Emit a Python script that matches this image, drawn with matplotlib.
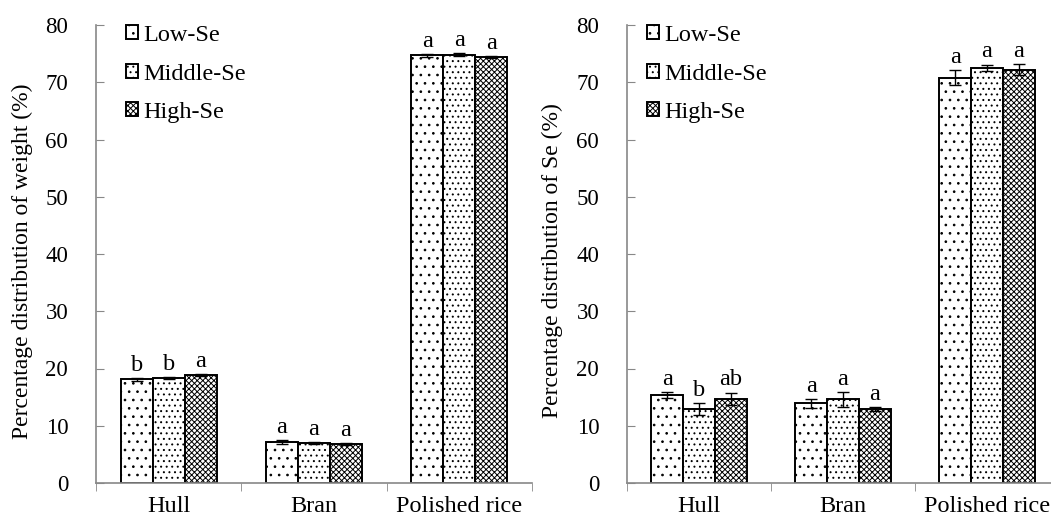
import matplotlib
matplotlib.use("Agg")
import matplotlib.pyplot as plt
import numpy as np

plt.rcParams['font.family'] = ['Liberation Serif', 'DejaVu Serif']
plt.rcParams['hatch.linewidth'] = 0.7

categories = ["Hull", "Bran", "Polished rice"]
series = ["Low-Se", "Middle-Se", "High-Se"]

weight_low = [18.1, 7.2, 74.7]
weight_mid = [18.3, 7.0, 74.8]
weight_high = [18.9, 6.8, 74.4]
weight_err_low = [0.2, 0.35, 0.3]
weight_err_mid = [0.2, 0.2, 0.3]
weight_err_high = [0.15, 0.1, 0.2]
weight_letters_low = ["b", "a", "a"]
weight_letters_mid = ["b", "a", "a"]
weight_letters_high = ["a", "a", "a"]

se_low = [15.4, 13.9, 70.8]
se_mid = [12.9, 14.6, 72.5]
se_high = [14.7, 12.9, 72.2]
se_err_low = [0.55, 0.8, 1.3]
se_err_mid = [1.0, 1.3, 0.6]
se_err_high = [1.1, 0.35, 1.0]
se_letters_low = ["a", "a", "a"]
se_letters_mid = ["b", "a", "a"]
se_letters_high = ["ab", "a", "a"]

yticks = [0, 10, 20, 30, 40, 50, 60, 70, 80]

hatches = ['..', '...', 'xxxxxx']
hcolors = ['#333333', '#333333', '#444444']

W, H = 1051, 522
fig = plt.figure(figsize=(W/100, H/100), dpi=100)
ax1 = fig.add_axes([96/W, 1-483/H, 436/W, 458/H])
ax2 = fig.add_axes([627/W, 1-483/H, 432/W, 458/H])

def draw(ax, vals, errs, letters, ylabel, leg_x, ylab_x):
    x = np.arange(len(categories))
    w = 0.22
    offs = [-w, 0, w]
    for i in range(3):
        b = ax.bar(x + offs[i], vals[i], width=w, facecolor='white',
                   edgecolor='black', linewidth=1.4, hatch=hatches[i],
                   label=series[i], zorder=2)
        for p in b.patches:
            if hasattr(p, 'set_hatchcolor'):
                p.set_hatchcolor(hcolors[i])
        ax.errorbar(x + offs[i], vals[i], yerr=errs[i], fmt='none',
                    ecolor='black', elinewidth=1.0, capsize=4, capthick=1.0, zorder=3)
        for xi, v, e, t in zip(x + offs[i], vals[i], errs[i], letters[i]):
            ax.annotate(t, (xi, v + e), xytext=(0, 1.5), textcoords='offset points',
                        ha='center', va='bottom', fontsize=17.5)
    ax.set_xlim(-0.5, 2.5)
    ax.set_ylim(0, 80)
    ax.set_yticks(yticks)
    ax.set_xticks(x)
    ax.set_xticklabels(categories, fontsize=17.5)
    ax.set_xticks([-0.5, 0.5, 1.5, 2.5], minor=True)
    ax.tick_params(axis='x', which='major', length=0, pad=9)
    ax.tick_params(axis='x', which='minor', length=6, direction='out', color='#888888')
    ax.tick_params(axis='y', direction='in', length=6, color='#888888', labelsize=16.5, pad=20)
    for s in ['top', 'right']:
        ax.spines[s].set_visible(False)
    for s in ['left', 'bottom']:
        ax.spines[s].set_color('#888888')
        ax.spines[s].set_linewidth(1.2)
    ax.set_ylabel(ylabel, fontsize=17)
    ax.yaxis.set_label_coords(ylab_x, 0.5, transform=fig.transFigure)
    ax.legend(loc='upper left', bbox_to_anchor=(leg_x, 1.0), frameon=False,
              fontsize=17.5, handlelength=0.5, handleheight=0.5,
              handletextpad=0.2, labelspacing=0.72, borderpad=0, borderaxespad=0)

draw(ax1, [weight_low, weight_mid, weight_high],
     [weight_err_low, weight_err_mid, weight_err_high],
     [weight_letters_low, weight_letters_mid, weight_letters_high],
     "Percentage distribution of weight (%)", 0.069, 33/W)
draw(ax2, [se_low, se_mid, se_high],
     [se_err_low, se_err_mid, se_err_high],
     [se_letters_low, se_letters_mid, se_letters_high],
     "Percentage distribution of Se (%)", 0.046, 563/W)

fig.savefig("out.png", dpi=100)
